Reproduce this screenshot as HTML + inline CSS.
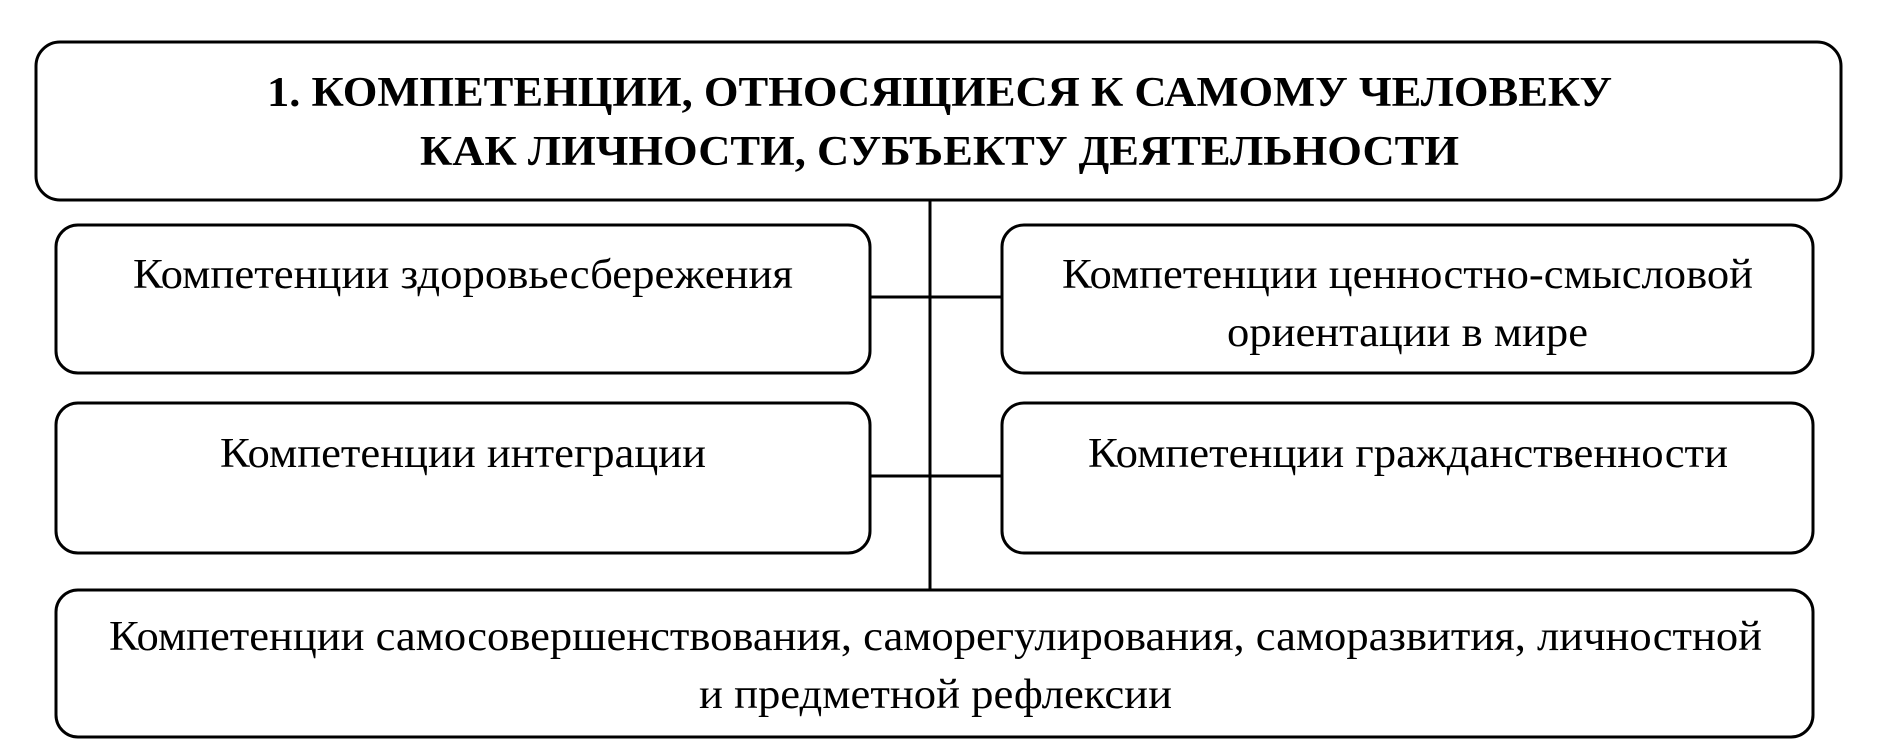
<!DOCTYPE html>
<html><head><meta charset="utf-8"><style>
html,body{margin:0;padding:0;background:#fff}
svg{display:block}
text{font-family:"Liberation Serif","Times New Roman",serif;fill:#000}
</style></head><body>
<svg width="1883" height="740" viewBox="0 0 1883 740" xmlns="http://www.w3.org/2000/svg">
<g fill="none" stroke="#000" stroke-width="3">
<rect x="36" y="42" width="1805" height="158" rx="24"/>
<rect x="56" y="225" width="814" height="148" rx="22"/>
<rect x="1002" y="225" width="811" height="148" rx="22"/>
<rect x="56" y="403" width="814" height="150" rx="22"/>
<rect x="1002" y="403" width="811" height="150" rx="22"/>
<rect x="56" y="590" width="1757" height="147" rx="22"/>
<line x1="930" y1="200" x2="930" y2="590"/>
<line x1="870" y1="297" x2="1002" y2="297"/>
<line x1="870" y1="476" x2="1002" y2="476"/>
</g>
<g font-weight="bold" font-size="42">
<text x="267" y="106" textLength="1345" lengthAdjust="spacingAndGlyphs">1. КОМПЕТЕНЦИИ, ОТНОСЯЩИЕСЯ К САМОМУ ЧЕЛОВЕКУ</text>
<text x="420" y="165" textLength="1039" lengthAdjust="spacingAndGlyphs">КАК ЛИЧНОСТИ, СУБЪЕКТУ ДЕЯТЕЛЬНОСТИ</text>
</g>
<g font-size="42">
<text x="133" y="288" textLength="660" lengthAdjust="spacingAndGlyphs">Компетенции здоровьесбережения</text>
<text x="1062" y="288" textLength="691" lengthAdjust="spacingAndGlyphs">Компетенции ценностно-смысловой</text>
<text x="1227" y="346" textLength="361" lengthAdjust="spacingAndGlyphs">ориентации в мире</text>
<text x="220" y="467" textLength="486" lengthAdjust="spacingAndGlyphs">Компетенции интеграции</text>
<text x="1088" y="467" textLength="640" lengthAdjust="spacingAndGlyphs">Компетенции гражданственности</text>
<text x="109" y="650" textLength="1653" lengthAdjust="spacingAndGlyphs">Компетенции самосовершенствования, саморегулирования, саморазвития, личностной</text>
<text x="699" y="708" textLength="473" lengthAdjust="spacingAndGlyphs">и предметной рефлексии</text>
</g>
</svg>
</body></html>
